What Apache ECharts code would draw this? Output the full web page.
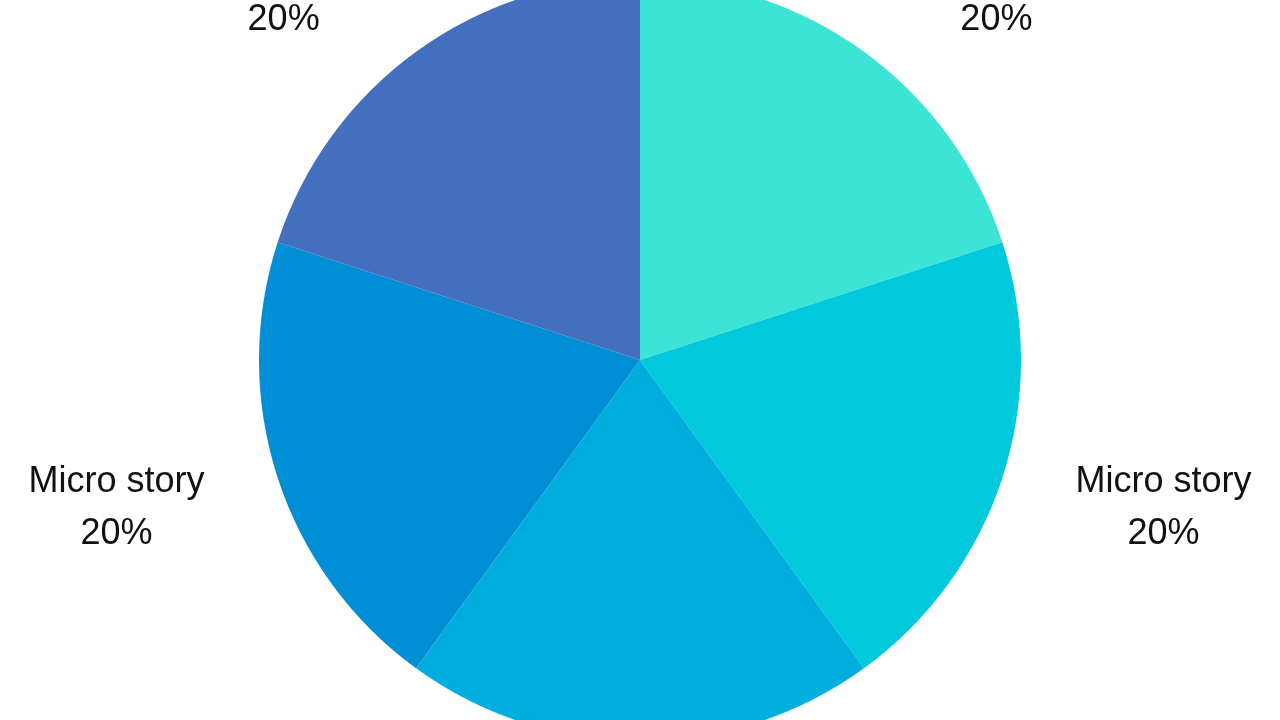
<!DOCTYPE html>
<html>
<head>
<meta charset="utf-8">
<script src="https://cdn.jsdelivr.net/npm/echarts@6/dist/echarts.min.js"></script>
<style>
    html, body {
        margin: 0;
        padding: 0;
        background: #ffffff;
    }
    #chart {
        width: 1280px;
        height: 720px;
    }
</style>
</head>
<body>
<div id="chart"></div>
<script>
// slices, clockwise from 12 o'clock
const sliceNames = ['Micro story', 'Micro story', 'Micro story', 'Micro story', 'Micro story'];
const sliceValues = [20, 20, 20, 20, 20];
const sliceColors = ['#3ce4d5', '#00c9dc', '#00aedd', '#008fd6', '#446fbe'];

const chart = echarts.init(document.getElementById('chart'));

let option = {
    animation: false,
    backgroundColor: '#ffffff',
    series: [
        {
            type: 'pie',
            center: ['50%', '50%'],
            radius: 381,
            startAngle: 90,
            clockwise: true,
            avoidLabelOverlap: false,
            emphasis: { disabled: true },
            label: {
                show: true,
                position: 'outside',
                distanceToLabelLine: -2,
                padding: [12, 0, 0, 0],
                formatter: '{c|{b}}\n{c|{d}%}',
                rich: {
                    c: {
                        align: 'center',
                        fontFamily: '"Liberation Sans", Arial, sans-serif',
                        fontSize: 36,
                        lineHeight: 52,
                        color: '#111111'
                    }
                }
            },
            labelLine: {
                show: false,
                length: 79,
                length2: 0
            },
            itemStyle: {
                borderWidth: 0
            },
            data: sliceNames.map((name, i) => ({
                name: name,
                value: sliceValues[i],
                itemStyle: { color: sliceColors[i] }
            }))
        }
    ]
};

chart.setOption(option);
</script>
</body>
</html>
